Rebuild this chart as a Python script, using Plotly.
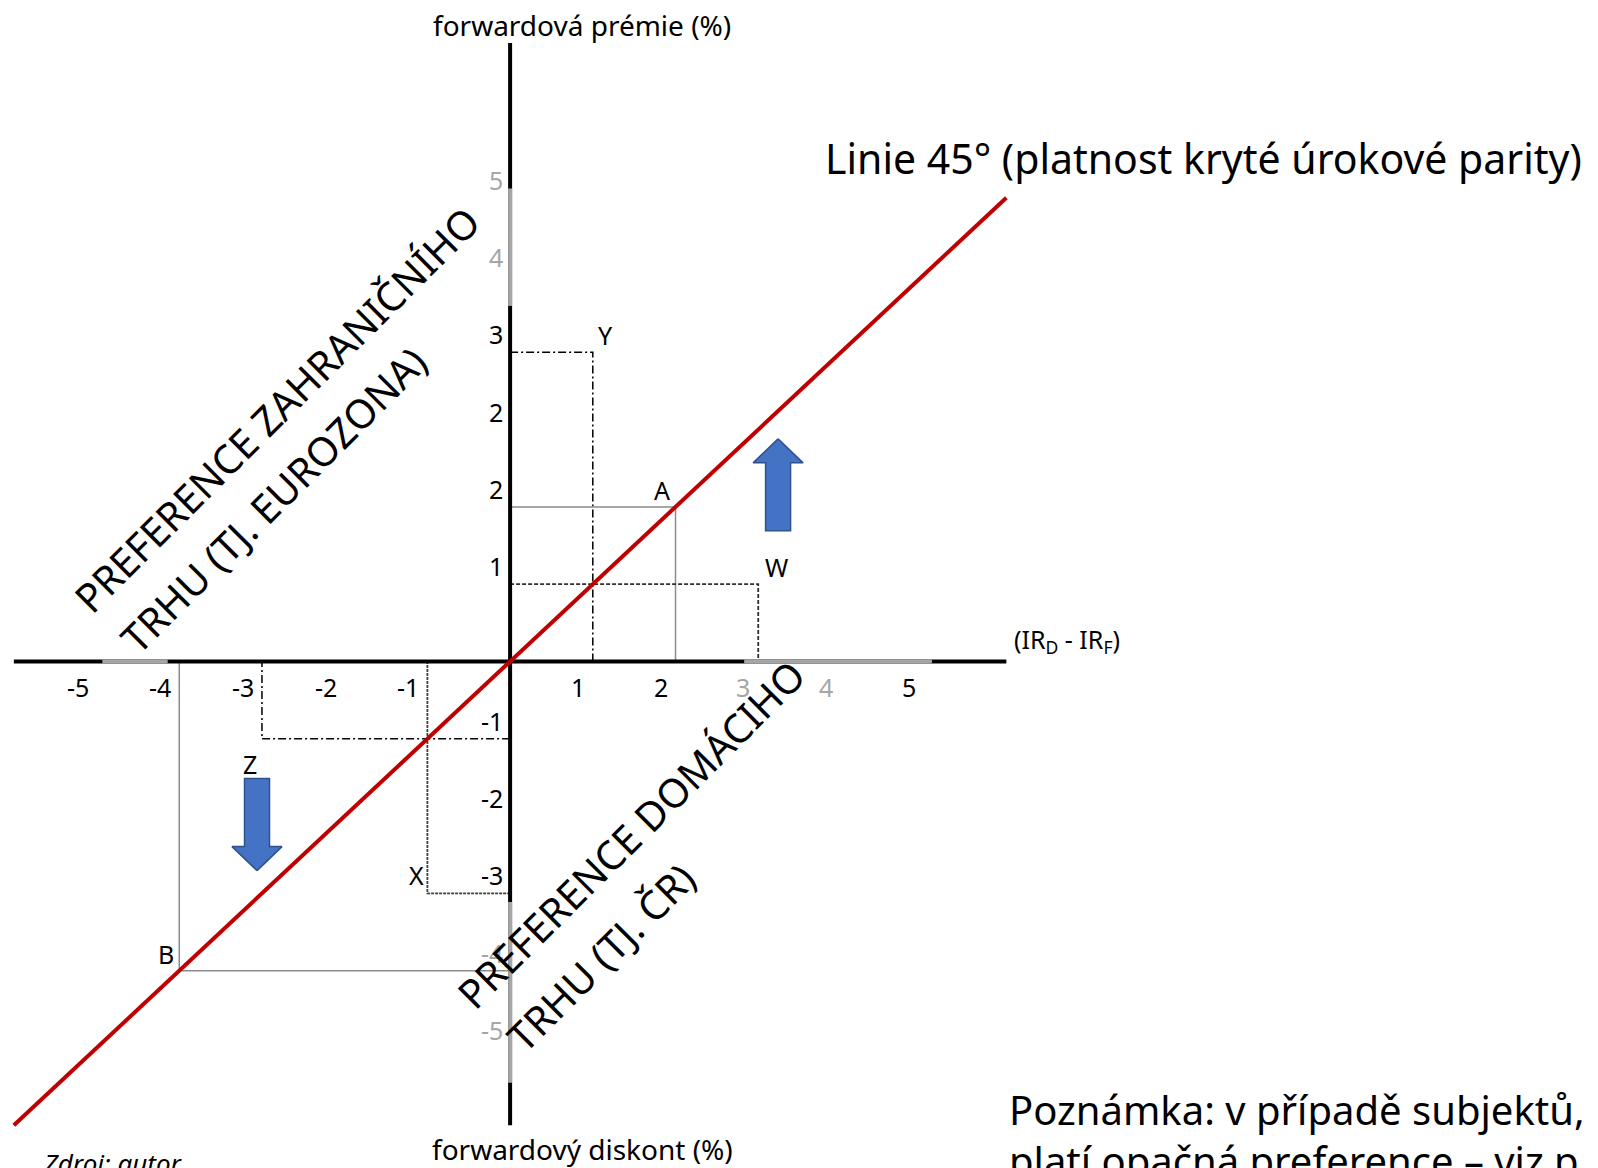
import plotly.graph_objects as go

# ---------------- data ----------------
point_names = ["Y", "A", "W", "Z", "X", "B"]
point_x = [1, 2, 3, -3, -1, -4]
point_y = [4, 2, 1, -1, -3, -4]

parity_x = [-6, 6]
parity_y = [-6, 6]

x_axis_extent = [-6, 6]
y_axis_extent = [-6, 8]

x_tick_values = [-5, -4, -3, -2, -1, 1, 2, 3, 4, 5]
x_tick_labels = ["-5", "-4", "-3", "-2", "-1", "1", "2", "3", "4", "5"]
x_tick_faded = [False, False, False, False, False, False, False, True, True, False]

y_tick_values = [-5, -4, -3, -2, -1, 1, 2, 3, 4, 5, 6]
y_tick_labels = ["-5", "-4", "-3", "-2", "-1", "1", "2", "2", "3", "4", "5"]
y_tick_faded = [True, True, False, False, False, False, False, False, False, True, True]

# faded (grey) stretches of the axis lines
x_axis_faded_from = [-4.93, 2.83]
x_axis_faded_to = [-4.14, 5.10]
y_axis_faded_from = [4.60, -5.45]
y_axis_faded_to = [6.12, -3.11]

# block arrows (centre and direction)
arrow_x = [3.24, -3.06]
arrow_y = [2.285, -2.11]
arrow_dir = [1, -1]

# ---------------- layout constants ----------------
PAGE_OFF = 8                       # default body margin of the html page
W, H = 1598 - PAGE_OFF, 1168 - PAGE_OFF
PX_X, PX_Y = 82.71, 77.3           # pixels per unit
OX, OY = 510.1 - PAGE_OFF, 661.5 - PAGE_OFF   # pixel position of origin
x_range = [-OX / PX_X, (W - OX) / PX_X]
y_range = [(OY - H) / PX_Y, OY / PX_Y]

FONT = "Noto Sans"
BLACK = "#000000"
GREY = "#A6A6A6"
RED = "#C00000"


def paper(px, py):
    # px, py given in screen pixels of the page
    return (px - PAGE_OFF) / W, 1 - (py - PAGE_OFF) / H


fig = go.Figure()

# guide lines from each point to the axes
guide_style = {
    "Y": dict(color=BLACK, dash="8px,3px,2px,3px", width=1.5),
    "A": dict(color="#8C8C8C", dash="solid", width=1.5),
    "W": dict(color="#303030", dash="4px,2px", width=1.8),
    "Z": dict(color=BLACK, dash="8px,3px,2px,3px", width=1.5),
    "X": dict(color="#404040", dash="3px,1px", width=1.8),
    "B": dict(color="#8C8C8C", dash="solid", width=1.5),
}
for name, px_, py_ in zip(point_names, point_x, point_y):
    fig.add_trace(go.Scatter(
        x=[0, px_, px_], y=[py_, py_, 0], mode="lines",
        line=guide_style[name], hoverinfo="skip", showlegend=False))

# axes
fig.add_trace(go.Scatter(x=x_axis_extent, y=[0, 0], mode="lines",
                         line=dict(color=BLACK, width=4), showlegend=False, hoverinfo="skip"))
fig.add_trace(go.Scatter(x=[0, 0], y=y_axis_extent, mode="lines",
                         line=dict(color=BLACK, width=4), showlegend=False, hoverinfo="skip"))
for a, b in zip(x_axis_faded_from, x_axis_faded_to):
    fig.add_trace(go.Scatter(x=[a, b], y=[0, 0], mode="lines",
                             line=dict(color=GREY, width=4), showlegend=False, hoverinfo="skip"))
for a, b in zip(y_axis_faded_from, y_axis_faded_to):
    fig.add_trace(go.Scatter(x=[0, 0], y=[a, b], mode="lines",
                             line=dict(color=GREY, width=4), showlegend=False, hoverinfo="skip"))

# 45 degree line
fig.add_trace(go.Scatter(x=parity_x, y=parity_y, mode="lines",
                         line=dict(color=RED, width=4), showlegend=False, hoverinfo="skip"))

# block arrows
AH, AW, AS, AHL = 92, 50, 25, 24   # height, width, shaft width, head length (px)
for cx, cy, d in zip(arrow_x, arrow_y, arrow_dir):
    pts = [(0, AH / 2), (AW / 2, AH / 2 - AHL), (AS / 2, AH / 2 - AHL), (AS / 2, -AH / 2),
           (-AS / 2, -AH / 2), (-AS / 2, AH / 2 - AHL), (-AW / 2, AH / 2 - AHL), (0, AH / 2)]
    xs = [cx + dx / PX_X for dx, dy in pts]
    ys = [cy + d * dy / PX_Y for dx, dy in pts]
    fig.add_trace(go.Scatter(x=xs, y=ys, mode="lines", fill="toself", fillcolor="#4472C4",
                             line=dict(color="#2F528F", width=1.5), showlegend=False, hoverinfo="skip"))

ann = []
# tick labels
for v, t, f in zip(x_tick_values, x_tick_labels, x_tick_faded):
    ann.append(dict(x=v, y=0, xref="x", yref="y", text=t, showarrow=False,
                    xanchor="right", yanchor="middle", xshift=-6, yshift=-25,
                    font=dict(family=FONT, size=25, color=GREY if f else BLACK)))
for v, t, f in zip(y_tick_values, y_tick_labels, y_tick_faded):
    ann.append(dict(x=0, y=v, xref="x", yref="y", text=t, showarrow=False,
                    xanchor="right", yanchor="middle", xshift=-5, yshift=18,
                    font=dict(family=FONT, size=25, color=GREY if f else BLACK)))

# point labels
label_shift = {"Y": (13, 17), "A": (-14, 17), "W": (18, 17), "Z": (-12, -25),
               "X": (-11, 18), "B": (-13, 17)}
for name, px_, py_ in zip(point_names, point_x, point_y):
    sx, sy = label_shift[name]
    ann.append(dict(x=px_, y=py_, xref="x", yref="y", text=name, showarrow=False,
                    xanchor="center", yanchor="middle", xshift=sx, yshift=sy,
                    font=dict(family=FONT, size=25, color=BLACK)))


def text_at(px, py, text, size, xanchor="center", angle=0, italic=False):
    x, y = paper(px, py)
    ann.append(dict(x=x, y=y, xref="paper", yref="paper", text=text, showarrow=False,
                    xanchor=xanchor, yanchor="middle", textangle=angle,
                    font=dict(family=FONT, size=size, color=BLACK,
                              style="italic" if italic else "normal")))


text_at(582, 25, "forwardová prémie (%)", 28)
text_at(582, 1149, "forwardový diskont (%)", 28)
text_at(1012, 640, "(IR<sub>D</sub> - IR<sub>F</sub>)", 25, xanchor="left")
text_at(823, 158, "Linie 45° (platnost kryté úrokové parity)", 41, xanchor="left")
text_at(1007, 1109, "Poznámka: v případě subjektů,", 40, xanchor="left")
text_at(1007, 1160, "platí opačná preference – viz p", 40, xanchor="left")
text_at(41, 1163, "Zdroj: autor", 26, xanchor="left", italic=True)

# diagonal region captions
text_at(276, 409, "PREFERENCE ZAHRANIČNÍHO", 40, angle=-45)
text_at(273, 499, "TRHU (TJ. EUROZONA)", 40, angle=-45)
text_at(630, 834, "PREFERENCE DOMÁCIHO", 40, angle=-45)
text_at(600, 957, "TRHU (TJ. ČR)", 40, angle=-45)

fig.update_layout(
    width=W, height=H, margin=dict(l=0, r=0, t=0, b=0),
    paper_bgcolor="white", plot_bgcolor="white",
    xaxis=dict(range=x_range, visible=False, fixedrange=True),
    yaxis=dict(range=y_range, visible=False, fixedrange=True),
    annotations=ann, showlegend=False,
)

fig.write_html("out.html")
